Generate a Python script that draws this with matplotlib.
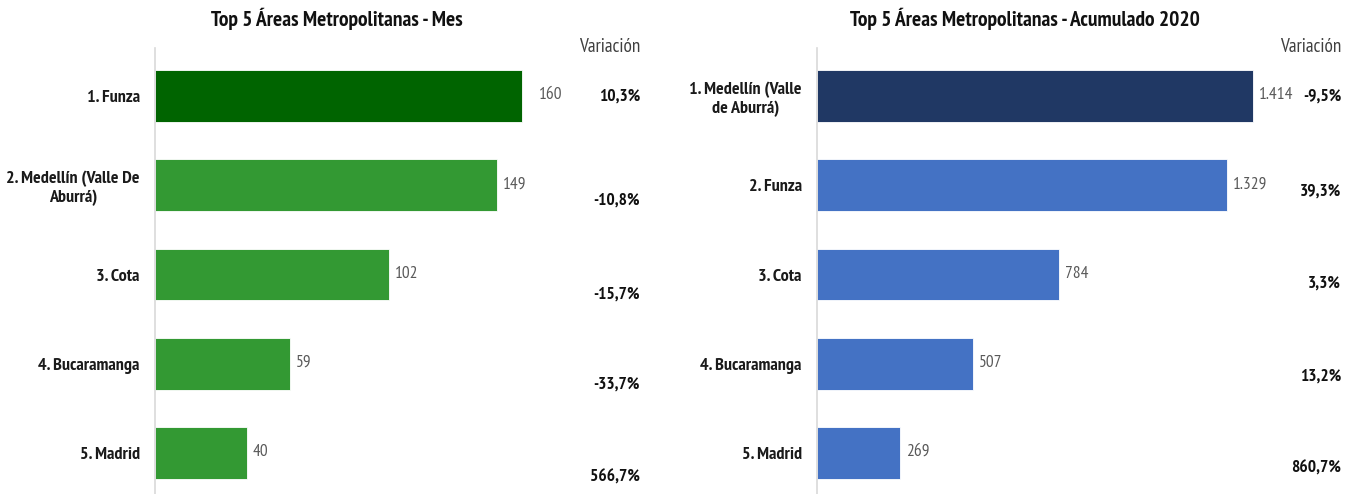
import numpy as np
import matplotlib.pyplot as plt

# data
mes_cats = ['1. Funza', '2. Medellín (Valle De\nAburrá)', '3. Cota', '4. Bucaramanga', '5. Madrid']
mes_vals = [160, 149, 102, 59, 40]
mes_var = ['10,3%', '-10,8%', '-15,7%', '-33,7%', '566,7%']

acum_cats = ['1. Medellín (Valle\nde Aburrá)', '2. Funza', '3. Cota', '4. Bucaramanga', '5. Madrid']
acum_vals = [1414, 1329, 784, 507, 269]
acum_labels = ['1.414', '1.329', '784', '507', '269']
acum_var = ['-9,5%', '39,3%', '3,3%', '13,2%', '860,7%']

plt.rcParams['font.family'] = ['PT Sans Narrow', 'DejaVu Sans']

W, H = 1362, 494
fig = plt.figure(figsize=(W / 100, H / 100), dpi=100)

def px(x0, y_top, x1, y_bot):
    return [x0 / W, 1 - y_bot / H, (x1 - x0) / W, (y_bot - y_top) / H]

def panel(rect, cats, vals, labels, var, colors, title, title_x, var_x, var_dy, first_pad):
    ax = fig.add_axes(rect)
    y = np.arange(len(cats))
    ax.barh(y, vals, height=0.58, color=colors, edgecolor='white', linewidth=0.6)
    ax.set_ylim(4.54, -0.54)
    ax.set_yticks(y)
    ax.set_yticklabels(cats, fontsize=13, fontweight='bold', color='#1a1a1a',
                       multialignment='center', linespacing=1.2)
    ax.tick_params(axis='y', length=0, pad=11)
    ax.set_xticks([])
    for s in ['top', 'right', 'bottom']:
        ax.spines[s].set_visible(False)
    ax.spines['left'].set_color('#d9d9d9')
    ax.spines['left'].set_linewidth(1.2)
    for i, (v, t) in enumerate(zip(vals, labels)):
        ax.annotate(t, (v, i), xytext=(first_pad if i == 0 else 6, 1), textcoords='offset pixels',
                    ha='left', va='center', fontsize=12.5, color='#595959')
    for i, t in enumerate(var):
        ax.text(var_x / W, 1 - (48 + (i * 89.25 + 48) + var_dy[i]) / H, t, transform=fig.transFigure,
                ha='right', va='center', fontsize=12.5, fontweight='bold', color='#111111')
    fig.text(var_x / W, 1 - 47 / H, 'Variación', ha='right', va='center', fontsize=13.8, color='#404040')
    fig.text(title_x / W, 1 - 19 / H, title, ha='center', va='center', fontsize=15.5, fontweight='bold', color='#111111')
    return ax

ax1 = panel(px(155, 48, 560, 501), mes_cats, mes_vals, [str(v) for v in mes_vals], mes_var,
            ['#006400'] + ['#339933'] * 4, 'Top 5 Áreas Metropolitanas - Mes', 337, 640,
            [1, 15, 20, 21, 25], 17)
ax1.set_xlim(0, 405 / 2.294)

ax2 = panel(px(817, 48, 1300, 501), acum_cats, acum_vals, acum_labels, acum_var,
            ['#203864'] + ['#4472c4'] * 4, 'Top 5 Áreas Metropolitanas - Acumulado 2020', 1025, 1341,
            [1, 6, 9, 13, 16], 6)
ax2.set_xlim(0, 483 / 0.3083)

fig.savefig('out.png', dpi=100)
